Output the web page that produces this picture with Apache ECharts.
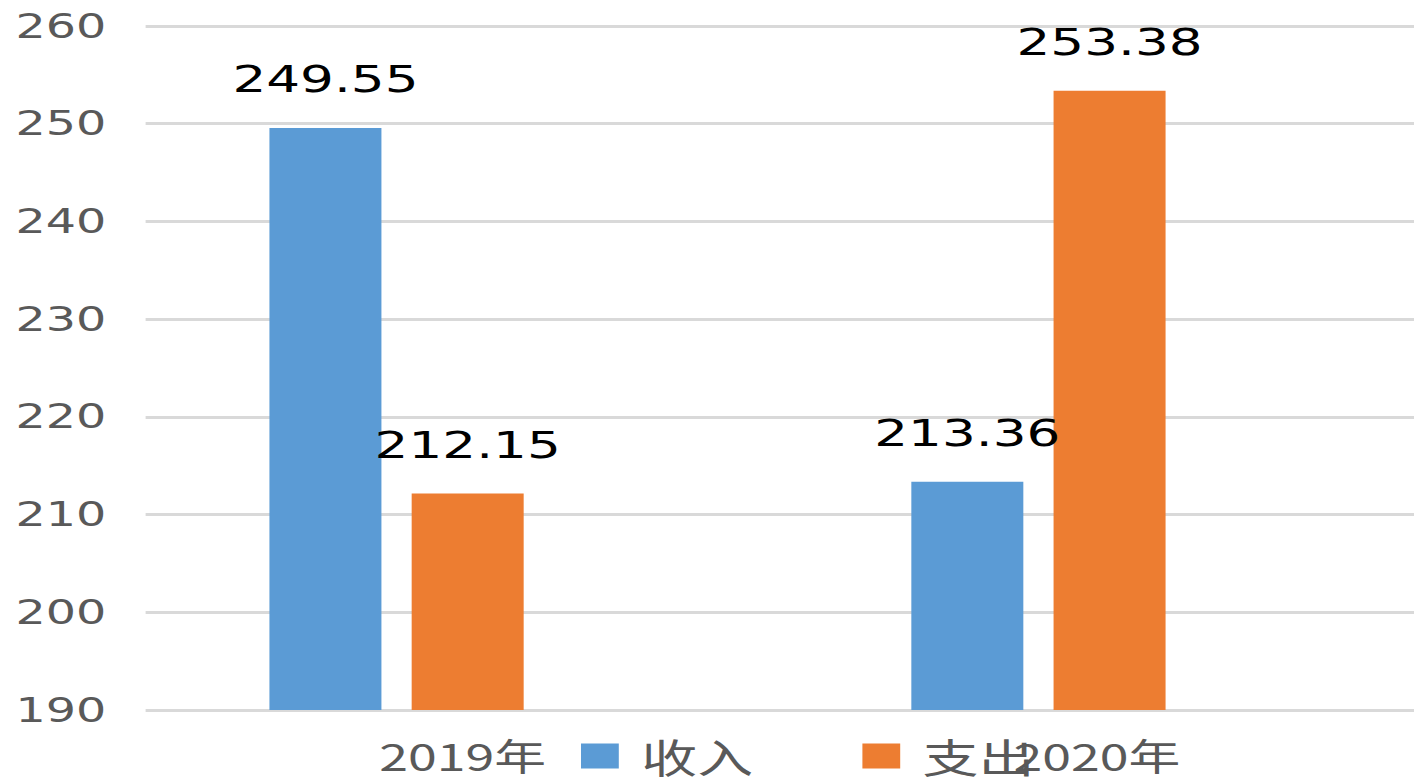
<!DOCTYPE html>
<html>
<head>
<meta charset="utf-8">
<script src="https://cdn.jsdelivr.net/npm/echarts@6/dist/echarts.min.js"></script>
<style>
  html, body { margin: 0; padding: 0; background: #fff; overflow: hidden; }
  /* the reference picture is stretched sideways, so draw narrow and stretch it */
  #gh { width: 1010px; height: 783px; transform: scaleX(1.4); transform-origin: 0 0; }
</style>
</head>
<body>
<div id="gh"></div>
<script>
var years = ['2019年', '2020年'];
var seriesNames = ['收入', '支出'];
var income = [249.55, 213.36];
var expense = [212.15, 253.38];
var colors = ['#5b9bd5', '#ed7d31'];

var dom = document.getElementById('gh');
var myChart = echarts.init(dom, null, { renderer: 'svg' });

var labelStyle = {
  show: true,
  position: 'top',
  distance: 30,
  color: '#000',
  fontSize: 38,
  fontFamily: 'DejaVu Sans'
};

var option = {
  animation: false,
  color: colors,
  legend: {
    data: seriesNames,
    left: 415,
    top: 736,
    padding: 0,
    icon: 'rect',
    itemWidth: 27,
    itemHeight: 25,
    itemGap: 78,
    textStyle: {
      color: '#595959',
      fontSize: 40,
      fontFamily: 'Noto Sans CJK SC',
      padding: [0, 0, 0, 11]
    }
  },
  grid: [
    // grid lines, y labels and year labels
    { left: 104, right: -12, top: 26, bottom: 73 },
    // the bars sit a bit to the left in the reference
    { left: 54, right: 39, top: 26, bottom: 73 }
  ],
  xAxis: [
    {
      gridIndex: 0,
      type: 'category',
      data: years,
      axisLine: { show: false },
      axisTick: { show: false },
      axisLabel: {
        margin: 26,
        color: '#595959',
        fontSize: 37,
        fontFamily: 'Noto Sans CJK SC'
      }
    },
    {
      gridIndex: 1,
      type: 'category',
      data: years,
      show: false
    }
  ],
  yAxis: [
    {
      gridIndex: 0,
      type: 'value',
      min: 190,
      max: 260,
      interval: 10,
      axisLine: { show: false },
      axisTick: { show: false },
      axisLabel: {
        margin: 28,
        color: '#595959',
        fontSize: 34,
        fontFamily: 'DejaVu Sans'
      },
      splitLine: { lineStyle: { color: '#d9d9d9', width: 3 } }
    },
    {
      gridIndex: 1,
      type: 'value',
      min: 190,
      max: 260,
      interval: 10,
      show: false,
      splitLine: { show: false }
    }
  ],
  series: [
    {
      name: seriesNames[0],
      type: 'bar',
      xAxisIndex: 1,
      yAxisIndex: 1,
      barWidth: 80,
      barGap: '27%',
      data: income,
      label: labelStyle
    },
    {
      name: seriesNames[1],
      type: 'bar',
      xAxisIndex: 1,
      yAxisIndex: 1,
      barWidth: 80,
      barGap: '27%',
      data: expense,
      label: labelStyle
    }
  ]
};

myChart.setOption(option);
</script>
</body>
</html>
